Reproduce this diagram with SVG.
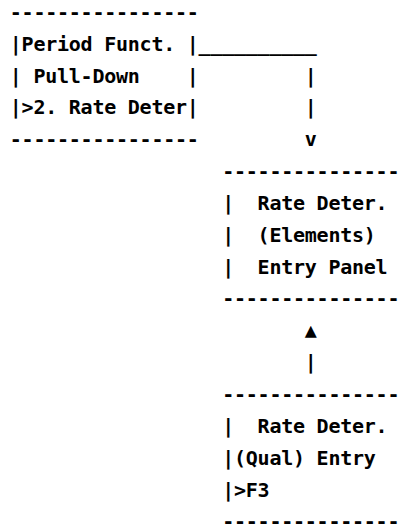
<svg xmlns="http://www.w3.org/2000/svg" width="404" height="525" viewBox="0 0 404 525" xml:space="preserve">
<style>
text{font-family:"DejaVu Sans Mono","Liberation Mono",monospace;font-weight:bold;font-size:20px;letter-spacing:-0.24px;fill:#000;white-space:pre}
</style>
<rect width="404" height="525" fill="#fff"/>
<g id="node-period-funct">
<text x="9.8" y="18.8">----------------</text>
<text x="9.8" y="50.65">|Period Funct. |</text>
<text x="9.8" y="82.5">| Pull-Down    |</text>
<text x="9.8" y="114.35">|&gt;2. Rate Deter|</text>
<text x="9.8" y="146.2">----------------</text>
</g>
<g id="connectors">
<text x="198.6" y="50.65">__________</text>
<text x="304.8" y="82.5">|</text>
<text x="304.8" y="114.35">|</text>
<text x="304.8" y="146.2">v</text>
<text x="304.8" y="337.3">▲</text>
<text x="304.8" y="369.15">|</text>
</g>
<g id="node-rate-deter-elements">
<text x="222.2" y="178.05">---------------</text>
<text x="222.2" y="209.9">|  Rate Deter.</text>
<text x="222.2" y="241.75">|  (Elements)</text>
<text x="222.2" y="273.6">|  Entry Panel</text>
<text x="222.2" y="305.45">---------------</text>
</g>
<g id="node-rate-deter-qual">
<text x="222.2" y="401">---------------</text>
<text x="222.2" y="432.85">|  Rate Deter.</text>
<text x="222.2" y="464.7">|(Qual) Entry</text>
<text x="222.2" y="496.55">|&gt;F3</text>
<text x="222.2" y="528.4">---------------</text>
</g>
</svg>
